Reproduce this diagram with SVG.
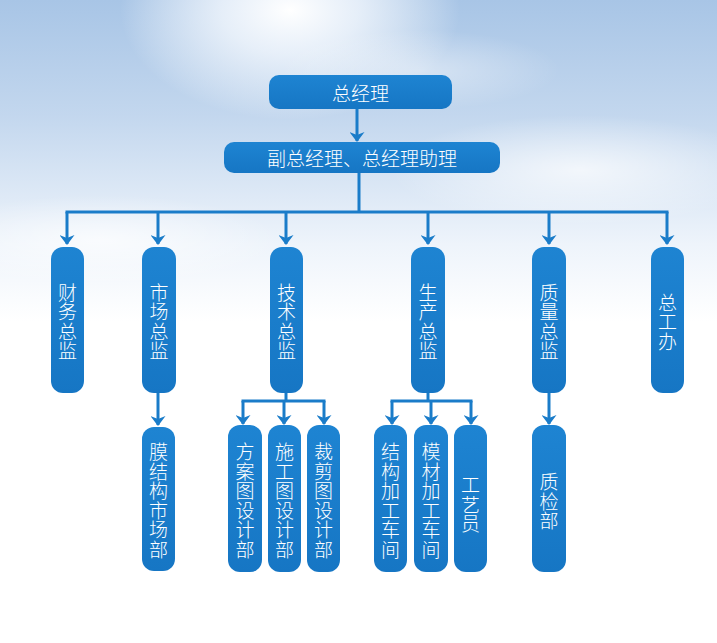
<svg xmlns="http://www.w3.org/2000/svg" width="717" height="643" viewBox="0 0 717 643">
<defs>
<linearGradient id="sky" x1="0" y1="0" x2="0" y2="1">
<stop offset="0" stop-color="#a8c5e6"/>
<stop offset="0.18" stop-color="#c3d7ee"/>
<stop offset="0.38" stop-color="#eef4fb"/>
<stop offset="0.5" stop-color="#ffffff"/>
<stop offset="1" stop-color="#ffffff"/>
</linearGradient>
<radialGradient id="sun" cx="0.5" cy="0.5" r="0.5">
<stop offset="0" stop-color="#ffffff" stop-opacity="1"/>
<stop offset="0.4" stop-color="#f4f8fd" stop-opacity="0.8"/>
<stop offset="1" stop-color="#ffffff" stop-opacity="0"/>
</radialGradient>
<radialGradient id="cloud" cx="0.5" cy="0.5" r="0.5">
<stop offset="0" stop-color="#ffffff" stop-opacity="0.7"/>
<stop offset="1" stop-color="#ffffff" stop-opacity="0"/>
</radialGradient>
<linearGradient id="boxg" x1="0" y1="0" x2="0" y2="1">
<stop offset="0" stop-color="#1e84d2"/>
<stop offset="1" stop-color="#1676c4"/>
</linearGradient>
<marker id="arr" markerUnits="userSpaceOnUse" markerWidth="10" markerHeight="15" refX="9" refY="7.5" orient="auto">
<path d="M0,0 L10,7.5 L0,15 L3,7.5 Z" fill="#1a7cc9"/>
</marker>
<style>
.box{fill:url(#boxg);}
.lbl{fill:#ffffff;font-family:"Noto Sans CJK SC","Noto Sans",sans-serif;font-size:19px;font-weight:300;text-anchor:middle;dominant-baseline:central;}
.ln{fill:none;stroke:#1a7cc9;stroke-width:3;}
.ar{fill:none;stroke:#1a7cc9;stroke-width:3;marker-end:url(#arr);}
</style>
</defs>
<rect x="0" y="0" width="717" height="643" fill="url(#sky)"/>
<ellipse cx="290" cy="10" rx="170" ry="110" fill="url(#sun)"/>
<ellipse cx="580" cy="170" rx="190" ry="55" fill="url(#cloud)"/>
<ellipse cx="100" cy="240" rx="180" ry="45" fill="url(#cloud)"/>
<ellipse cx="420" cy="70" rx="140" ry="40" fill="url(#cloud)" opacity="0.6"/>

<g id="connectors">
<line class="ar" x1="357" y1="109" x2="357" y2="141"/>
<polyline class="ln" points="359,173 359,212"/>
<line class="ln" x1="65.5" y1="212" x2="668.5" y2="212"/>
<line class="ar" x1="67" y1="212" x2="67" y2="244"/>
<line class="ar" x1="158" y1="212" x2="158" y2="244"/>
<line class="ar" x1="286" y1="212" x2="286" y2="244"/>
<line class="ar" x1="428" y1="212" x2="428" y2="244"/>
<line class="ar" x1="549" y1="212" x2="549" y2="244"/>
<line class="ar" x1="667" y1="212" x2="667" y2="244"/>
<line class="ar" x1="158" y1="393" x2="158" y2="425"/>
<line class="ln" x1="286" y1="393" x2="286" y2="401"/>
<line class="ln" x1="241.5" y1="401" x2="325.5" y2="401"/>
<line class="ar" x1="243" y1="401" x2="243" y2="424"/>
<line class="ar" x1="284" y1="401" x2="284" y2="424"/>
<line class="ar" x1="324" y1="401" x2="324" y2="424"/>
<line class="ln" x1="428" y1="393" x2="428" y2="401"/>
<line class="ln" x1="390.5" y1="401" x2="472.5" y2="401"/>
<line class="ar" x1="392" y1="401" x2="392" y2="424"/>
<line class="ar" x1="431" y1="401" x2="431" y2="424"/>
<line class="ar" x1="471" y1="401" x2="471" y2="424"/>
<line class="ar" x1="549" y1="393" x2="549" y2="424"/>
</g>

<g id="n-gm">
<rect class="box" x="269" y="75" width="183" height="34" rx="10"/>
<text class="lbl" x="360.5" y="92">总经理</text>
</g>
<g id="n-vgm">
<rect class="box" x="224" y="142" width="276" height="31" rx="10"/>
<text class="lbl" x="362" y="157.5">副总经理、总经理助理</text>
</g>

<g id="n-finance">
<rect class="box" x="51" y="247" width="33" height="146" rx="12"/>
<text class="lbl" x="67.5"><tspan x="67.5" y="290.75">财</tspan><tspan x="67.5" y="310.25">务</tspan><tspan x="67.5" y="329.75">总</tspan><tspan x="67.5" y="349.25">监</tspan></text>
</g>
<g id="n-market">
<rect class="box" x="142" y="247" width="34" height="146" rx="12"/>
<text class="lbl" x="159"><tspan x="159" y="290.75">市</tspan><tspan x="159" y="310.25">场</tspan><tspan x="159" y="329.75">总</tspan><tspan x="159" y="349.25">监</tspan></text>
</g>
<g id="n-tech">
<rect class="box" x="270" y="247" width="33" height="146" rx="12"/>
<text class="lbl" x="286.5"><tspan x="286.5" y="290.75">技</tspan><tspan x="286.5" y="310.25">术</tspan><tspan x="286.5" y="329.75">总</tspan><tspan x="286.5" y="349.25">监</tspan></text>
</g>
<g id="n-prod">
<rect class="box" x="411" y="247" width="34" height="146" rx="12"/>
<text class="lbl" x="428"><tspan x="428" y="290.75">生</tspan><tspan x="428" y="310.25">产</tspan><tspan x="428" y="329.75">总</tspan><tspan x="428" y="349.25">监</tspan></text>
</g>
<g id="n-quality">
<rect class="box" x="532" y="247" width="34" height="146" rx="12"/>
<text class="lbl" x="549"><tspan x="549" y="290.75">质</tspan><tspan x="549" y="310.25">量</tspan><tspan x="549" y="329.75">总</tspan><tspan x="549" y="349.25">监</tspan></text>
</g>
<g id="n-chief">
<rect class="box" x="651" y="247" width="33" height="146" rx="12"/>
<text class="lbl" x="667.5"><tspan x="667.5" y="300.5">总</tspan><tspan x="667.5" y="320">工</tspan><tspan x="667.5" y="339.5">办</tspan></text>
</g>

<g id="n-membrane">
<rect class="box" x="142" y="427" width="33" height="144" rx="12"/>
<text class="lbl" x="158.5"><tspan x="158.5" y="450">膜</tspan><tspan x="158.5" y="469.5">结</tspan><tspan x="158.5" y="489">构</tspan><tspan x="158.5" y="508.5">市</tspan><tspan x="158.5" y="528">场</tspan><tspan x="158.5" y="547.5">部</tspan></text>
</g>
<g id="n-plan">
<rect class="box" x="228" y="425" width="34" height="147" rx="12"/>
<text class="lbl" x="245"><tspan x="245" y="450">方</tspan><tspan x="245" y="469.5">案</tspan><tspan x="245" y="489">图</tspan><tspan x="245" y="508.5">设</tspan><tspan x="245" y="528">计</tspan><tspan x="245" y="547.5">部</tspan></text>
</g>
<g id="n-construct">
<rect class="box" x="268" y="425" width="33" height="147" rx="12"/>
<text class="lbl" x="284.5"><tspan x="284.5" y="450">施</tspan><tspan x="284.5" y="469.5">工</tspan><tspan x="284.5" y="489">图</tspan><tspan x="284.5" y="508.5">设</tspan><tspan x="284.5" y="528">计</tspan><tspan x="284.5" y="547.5">部</tspan></text>
</g>
<g id="n-cutting">
<rect class="box" x="307" y="425" width="33" height="147" rx="12"/>
<text class="lbl" x="323.5"><tspan x="323.5" y="450">裁</tspan><tspan x="323.5" y="469.5">剪</tspan><tspan x="323.5" y="489">图</tspan><tspan x="323.5" y="508.5">设</tspan><tspan x="323.5" y="528">计</tspan><tspan x="323.5" y="547.5">部</tspan></text>
</g>
<g id="n-struct">
<rect class="box" x="374" y="425" width="33" height="147" rx="12"/>
<text class="lbl" x="390.5"><tspan x="390.5" y="450">结</tspan><tspan x="390.5" y="469.5">构</tspan><tspan x="390.5" y="489">加</tspan><tspan x="390.5" y="508.5">工</tspan><tspan x="390.5" y="528">车</tspan><tspan x="390.5" y="547.5">间</tspan></text>
</g>
<g id="n-mould">
<rect class="box" x="414" y="425" width="34" height="147" rx="12"/>
<text class="lbl" x="431"><tspan x="431" y="450">模</tspan><tspan x="431" y="469.5">材</tspan><tspan x="431" y="489">加</tspan><tspan x="431" y="508.5">工</tspan><tspan x="431" y="528">车</tspan><tspan x="431" y="547.5">间</tspan></text>
</g>
<g id="n-craft">
<rect class="box" x="454" y="425" width="33" height="147" rx="12"/>
<text class="lbl" x="470.5"><tspan x="470.5" y="483">工</tspan><tspan x="470.5" y="502.5">艺</tspan><tspan x="470.5" y="522">员</tspan></text>
</g>
<g id="n-qc">
<rect class="box" x="532" y="425" width="34" height="147" rx="12"/>
<text class="lbl" x="549"><tspan x="549" y="480">质</tspan><tspan x="549" y="499.5">检</tspan><tspan x="549" y="519">部</tspan></text>
</g>
</svg>
